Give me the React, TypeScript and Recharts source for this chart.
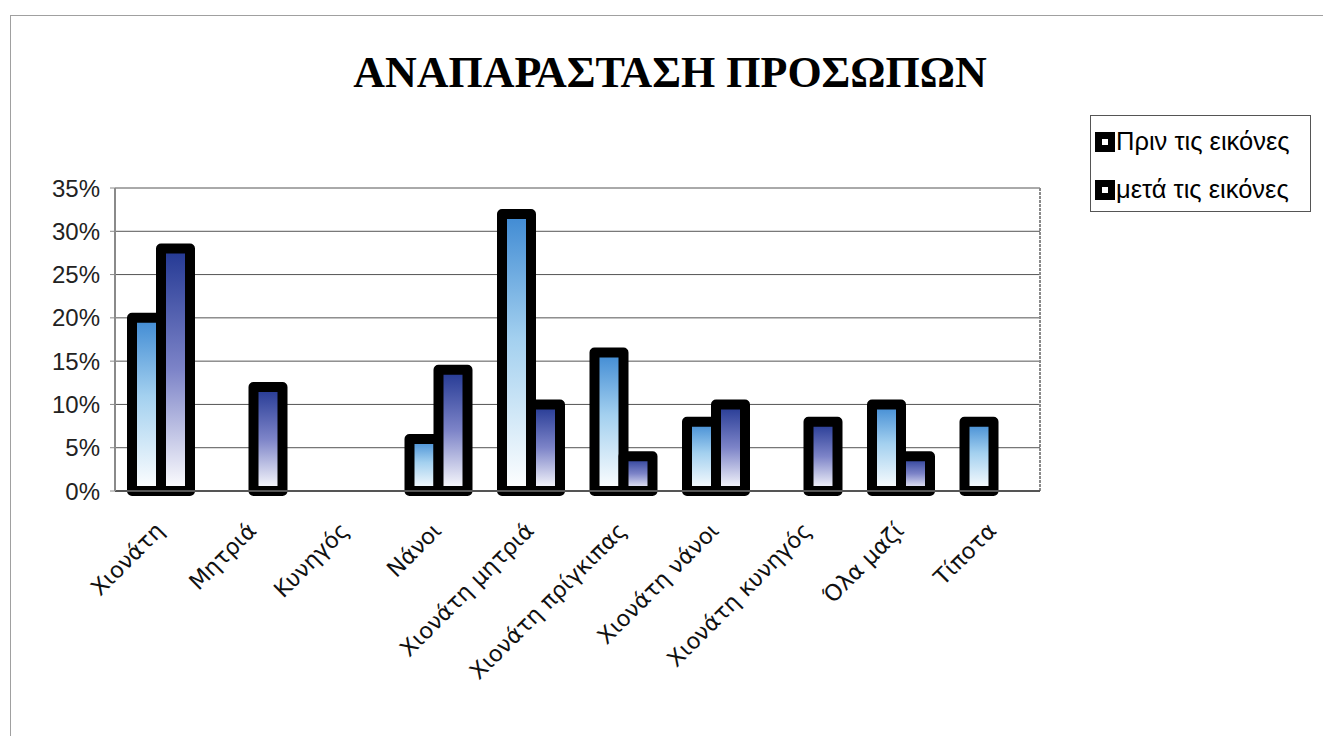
import React from 'react';
import { BarChart, Bar, XAxis, YAxis, CartesianGrid } from 'recharts';

const categories = [
  'Χιονάτη',
  'Μητριά',
  'Κυνηγός',
  'Νάνοι',
  'Χιονάτη μητριά',
  'Χιονάτη πρίγκιπας',
  'Χιονάτη νάνοι',
  'Χιονάτη κυνηγός',
  'Όλα μαζί',
  'Τίποτα',
];
const beforeValues = [20, 0, 0, 6, 32, 16, 8, 0, 10, 8];
const afterValues = [28, 12, 0, 14, 10, 4, 10, 8, 4, 0];
const yTicks = [0, 5, 10, 15, 20, 25, 30, 35];
const seriesNames = ['Πριν τις εικόνες', 'μετά τις εικόνες'];
const title = 'ΑΝΑΠΑΡΑΣΤΑΣΗ ΠΡΟΣΩΠΩΝ';

const data = categories.map((name, i) => ({
  name,
  before: beforeValues[i],
  after: afterValues[i],
}));

const XTick = (props: any) => {
  const { x, y, payload } = props;
  return (
    <g transform={`translate(${x + 4},${y + 33}) rotate(-45)`}>
      <text
        x={0}
        y={0}
        textAnchor="end"
        fontFamily="'DejaVu Sans', sans-serif"
        fontSize={22.5}
        fill="#111"
      >
        {payload.value}
      </text>
    </g>
  );
};

const LegendIcon = () => (
  <div
    style={{
      width: 20,
      height: 20,
      background: '#000',
      position: 'relative',
      marginRight: 1,
      flex: '0 0 auto',
    }}
  >
    <div
      style={{
        position: 'absolute',
        left: 7,
        top: 7,
        width: 6,
        height: 6,
        background: '#fff',
      }}
    />
  </div>
);

export default function App() {
  return (
    <div
      style={{
        position: 'absolute',
        left: 0,
        top: 0,
        width: 1323,
        height: 736,
        background: '#fff',
        overflow: 'hidden',
      }}
    >
      <svg width={0} height={0} style={{ position: 'absolute' }}>
        <defs>
          <linearGradient id="gradBefore" x1="0" y1="0" x2="0" y2="1">
            <stop offset="0%" stopColor="#3f8ad3" />
            <stop offset="45%" stopColor="#a3d0ef" />
            <stop offset="100%" stopColor="#ffffff" />
          </linearGradient>
          <linearGradient id="gradAfter" x1="0" y1="0" x2="0" y2="1">
            <stop offset="0%" stopColor="#233893" />
            <stop offset="50%" stopColor="#7d84c8" />
            <stop offset="100%" stopColor="#ffffff" />
          </linearGradient>
        </defs>
      </svg>
      <div
        style={{
          position: 'absolute',
          left: 10,
          top: 15,
          width: 1400,
          height: 800,
          border: '1px solid #a0a0a0',
        }}
      />
      <div
        style={{
          position: 'absolute',
          left: 270,
          width: 800,
          top: 51,
          textAlign: 'center',
          fontFamily: "'Liberation Serif', serif",
          fontWeight: 'bold',
          fontSize: 44,
          lineHeight: '44px',
          color: '#000',
          whiteSpace: 'nowrap',
        }}
      >
        {title}
      </div>
      <div
        style={{
          position: 'absolute',
          left: 1090,
          top: 115,
          width: 221,
          height: 97,
          border: '1px solid #555',
          boxSizing: 'border-box',
          fontFamily: "'Liberation Sans', Arial, sans-serif",
          fontSize: 25.5,
          color: '#000',
        }}
      >
        {seriesNames.map((s, i) => (
          <div
            key={s}
            style={{
              position: 'absolute',
              left: 4,
              top: 11 + i * 48,
              display: 'flex',
              alignItems: 'center',
              whiteSpace: 'nowrap',
            }}
          >
            <LegendIcon />
            <span>{s}</span>
          </div>
        ))}
      </div>
      <div style={{ position: 'absolute', left: 0, top: 0 }}>
        <BarChart
          width={1323}
          height={736}
          data={data}
          margin={{ top: 188, right: 283, bottom: 215, left: 0 }}
          barGap={0}
          barSize={29}
        >
          <CartesianGrid vertical={false} stroke="#555" strokeWidth={1} />
          <CartesianGrid
            horizontal={false}
            stroke="#8a8a8a"
            strokeWidth={2}
            strokeDasharray="3 1"
            verticalCoordinatesGenerator={(p: any) => [p.offset.left + p.offset.width]}
          />
          <XAxis
            dataKey="name"
            interval={0}
            height={30}
            axisLine={{ stroke: '#555', strokeWidth: 2 }}
            tickLine={false}
            tick={<XTick />}
          />
          <YAxis
            domain={[0, 35]}
            ticks={yTicks}
            width={115}
            tickFormatter={(v: number) => `${v}%`}
            axisLine={{ stroke: '#8a8a8a', strokeWidth: 2 }}
            tickLine={{ stroke: '#8a8a8a' }}
            tickSize={5}
            tickMargin={10}
            tick={{ fontFamily: "'Liberation Sans', Arial, sans-serif", fontSize: 24, fill: '#222' }}
          />
          <Bar
            dataKey="before"
            name={seriesNames[0]}
            fill="url(#gradBefore)"
            stroke="#000"
            strokeWidth={10}
            strokeLinejoin="round"
            isAnimationActive={false}
          />
          <Bar
            dataKey="after"
            name={seriesNames[1]}
            fill="url(#gradAfter)"
            stroke="#000"
            strokeWidth={10}
            strokeLinejoin="round"
            isAnimationActive={false}
          />
        </BarChart>
      </div>
    </div>
  );
}
